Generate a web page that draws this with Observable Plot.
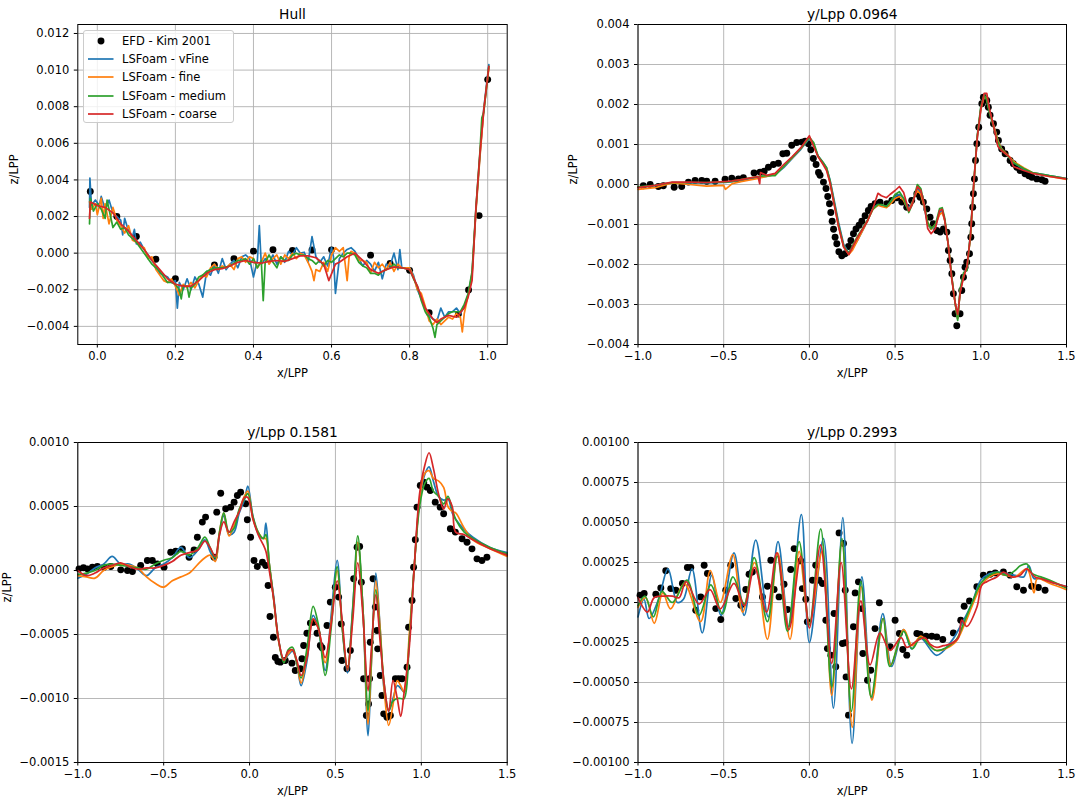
<!DOCTYPE html>
<html>
<head>
<meta charset="utf-8">
<script src="https://cdn.jsdelivr.net/npm/d3@7"></script>
<script src="https://cdn.jsdelivr.net/npm/@observablehq/plot@0.6"></script>
<style>
  html, body { margin: 0; padding: 0; background: #fff; }
  #fig { position: relative; width: 1077px; height: 803px; overflow: hidden; font-family: "DejaVu Sans", sans-serif; background: #fff; }
  #legend { position: absolute; left: 83px; top: 30px; width: 151px; height: 93px; border: 1px solid #cccccc; border-radius: 3px; background: rgba(255,255,255,0.8); box-sizing: border-box; }
  #legend .row { position: absolute; left: 0; height: 16px; width: 150px; }
  #legend .lab { position: absolute; left: 38px; top: 0; font-size: 11.5px; line-height: 16px; color: #000; white-space: nowrap; }
  #legend svg { position: absolute; left: 0; top: 0; }
</style>
</head>
<body>
<div id="fig"></div>
<script>
// ---------------- labels ----------------
const seriesNames = ["EFD - Kim 2001", "LSFoam - vFine", "LSFoam - fine", "LSFoam - medium", "LSFoam - coarse"];
const seriesColors = ["#000000", "#1f77b4", "#ff7f0e", "#2ca02c", "#d62728"];
const panelTitles = ["Hull", "y/Lpp 0.0964", "y/Lpp 0.1581", "y/Lpp 0.2993"];
const xLabel = "x/LPP";
const yLabel = "z/LPP";

// ---------------- tick values ----------------
const hullXTicks = [0.0, 0.2, 0.4, 0.6, 0.8, 1.0];
const hullYTicks = [-0.004, -0.002, 0.0, 0.002, 0.004, 0.006, 0.008, 0.010, 0.012];
const cutXTicks = [-1.0, -0.5, 0.0, 0.5, 1.0, 1.5];
const cut1YTicks = [-0.004, -0.003, -0.002, -0.001, 0.0, 0.001, 0.002, 0.003, 0.004];
const cut2YTicks = [-0.0015, -0.0010, -0.0005, 0.0, 0.0005, 0.0010];
const cut3YTicks = [-0.00100, -0.00075, -0.00050, -0.00025, 0.0, 0.00025, 0.00050, 0.00075, 0.00100];

// ---------------- Hull (x/LPP, z/LPP) ----------------
const hullEFD = [[-0.018,3.37e-3],[0.05,2.0e-3],[0.10,0.91e-3],[0.15,-0.33e-3],[0.20,-1.4e-3],[0.30,-0.65e-3],[0.35,-0.31e-3],[0.40,0.11e-3],[0.45,0.19e-3],[0.50,0.15e-3],[0.55,0.17e-3],[0.60,0.18e-3],[0.70,-0.11e-3],[0.75,-0.56e-3],[0.80,-0.94e-3],[0.85,-3.25e-3],[0.925,-3.33e-3],[0.951,-2.01e-3],[0.978,2.05e-3],[1.0,9.48e-3]];
const hullVFine = [[-0.02,2.5e-3],[-0.019,4.1e-3],[-0.015,2.6e-3],[-0.005,2.9e-3],[0.005,2.6e-3],[0.01,3.1e-3],[0.02,2.4e-3],[0.03,2.9e-3],[0.04,2.2e-3],[0.05,2.0e-3],[0.06,1.8e-3],[0.065,1.0e-3],[0.07,1.9e-3],[0.08,1.2e-3],[0.09,0.9e-3],[0.095,1.3e-3],[0.10,0.5e-3],[0.11,0.6e-3],[0.12,0.2e-3],[0.13,-0.1e-3],[0.14,-0.4e-3],[0.15,-0.7e-3],[0.16,-1.1e-3],[0.17,-1.2e-3],[0.18,-1.3e-3],[0.19,-1.6e-3],[0.20,-1.5e-3],[0.205,-3.0e-3],[0.21,-1.6e-3],[0.22,-2.0e-3],[0.23,-1.4e-3],[0.24,-2.0e-3],[0.25,-1.3e-3],[0.26,-1.7e-3],[0.27,-2.4e-3],[0.28,-1.0e-3],[0.29,-1.2e-3],[0.30,-0.6e-3],[0.31,-1.1e-3],[0.32,-0.3e-3],[0.33,-0.9e-3],[0.34,-0.6e-3],[0.35,-0.4e-3],[0.36,-0.8e-3],[0.37,-0.2e-3],[0.38,-0.1e-3],[0.39,-0.3e-3],[0.40,-1.3e-3],[0.41,-0.4e-3],[0.415,1.5e-3],[0.42,-0.6e-3],[0.43,-0.3e-3],[0.44,-0.5e-3],[0.45,-0.1e-3],[0.46,-0.6e-3],[0.47,-0.2e-3],[0.48,-0.5e-3],[0.49,0.1e-3],[0.50,-0.1e-3],[0.51,0.3e-3],[0.52,0.0],[0.53,0.05e-3],[0.54,-0.5e-3],[0.55,0.9e-3],[0.56,-0.2e-3],[0.57,-0.5e-3],[0.58,-0.2e-3],[0.59,-0.7e-3],[0.60,0.3e-3],[0.605,-0.2e-3],[0.61,-2.2e-3],[0.62,-0.3e-3],[0.63,0.0],[0.64,0.2e-3],[0.65,0.3e-3],[0.66,0.1e-3],[0.67,-0.3e-3],[0.68,-0.7e-3],[0.69,-0.4e-3],[0.70,-0.6e-3],[0.71,-1.0e-3],[0.72,-0.5e-3],[0.73,-1.4e-3],[0.74,-0.6e-3],[0.75,-0.7e-3],[0.76,0.0],[0.77,-0.9e-3],[0.775,0.2e-3],[0.78,-0.8e-3],[0.80,-0.8e-3],[0.81,-1.2e-3],[0.82,-2.0e-3],[0.83,-2.5e-3],[0.84,-3.0e-3],[0.85,-3.4e-3],[0.86,-3.6e-3],[0.87,-3.7e-3],[0.88,-3.0e-3],[0.89,-3.5e-3],[0.90,-3.2e-3],[0.91,-3.2e-3],[0.92,-3.0e-3],[0.93,-3.3e-3],[0.94,-2.9e-3],[0.95,-2.3e-3],[0.96,-1.1e-3],[0.97,2.4e-3],[0.98,5.3e-3],[0.99,7.9e-3],[1.003,10.3e-3]];
const hullFine = [[-0.02,2.8e-3],[-0.015,2.4e-3],[-0.005,2.7e-3],[0.0,2.1e-3],[0.01,3.0e-3],[0.015,1.9e-3],[0.02,2.7e-3],[0.03,1.6e-3],[0.04,2.5e-3],[0.05,1.8e-3],[0.06,1.5e-3],[0.07,1.1e-3],[0.08,1.5e-3],[0.09,0.7e-3],[0.10,0.6e-3],[0.11,0.4e-3],[0.12,0.3e-3],[0.13,-0.3e-3],[0.14,-0.2e-3],[0.15,-0.9e-3],[0.16,-1.2e-3],[0.17,-1.5e-3],[0.18,-1.6e-3],[0.19,-1.4e-3],[0.20,-1.8e-3],[0.21,-2.3e-3],[0.22,-1.7e-3],[0.23,-1.9e-3],[0.24,-1.6e-3],[0.25,-1.9e-3],[0.26,-1.5e-3],[0.27,-1.2e-3],[0.28,-1.3e-3],[0.29,-0.8e-3],[0.30,-0.6e-3],[0.31,-0.9e-3],[0.32,-0.7e-3],[0.33,-0.8e-3],[0.34,-0.6e-3],[0.35,-0.9e-3],[0.36,-0.3e-3],[0.37,-0.2e-3],[0.38,-0.5e-3],[0.39,-0.2e-3],[0.40,-0.3e-3],[0.41,-0.8e-3],[0.42,-0.5e-3],[0.43,0.0],[0.44,-0.6e-3],[0.45,-0.3e-3],[0.46,-0.1e-3],[0.47,-0.6e-3],[0.48,-0.1e-3],[0.49,-0.3e-3],[0.50,0.0],[0.51,-0.3e-3],[0.52,0.0],[0.53,-0.1e-3],[0.54,-0.5e-3],[0.55,-1.0e-3],[0.555,-1.5e-3],[0.56,-0.9e-3],[0.57,-1.0e-3],[0.58,-0.5e-3],[0.59,-1.0e-3],[0.60,-0.1e-3],[0.61,0.3e-3],[0.62,0.1e-3],[0.63,0.3e-3],[0.64,-1.5e-3],[0.645,-0.2e-3],[0.65,0.1e-3],[0.66,0.0],[0.67,-0.4e-3],[0.68,-0.4e-3],[0.69,-0.5e-3],[0.70,-1.1e-3],[0.71,-0.5e-3],[0.72,-0.8e-3],[0.73,-0.6e-3],[0.74,-0.9e-3],[0.75,-0.5e-3],[0.76,-1.0e-3],[0.77,-0.6e-3],[0.78,-0.8e-3],[0.80,-0.8e-3],[0.81,-1.3e-3],[0.82,-2.0e-3],[0.83,-2.2e-3],[0.84,-2.9e-3],[0.85,-3.7e-3],[0.86,-3.9e-3],[0.87,-3.6e-3],[0.88,-3.9e-3],[0.89,-3.7e-3],[0.90,-3.5e-3],[0.91,-3.6e-3],[0.92,-3.3e-3],[0.93,-3.5e-3],[0.935,-4.3e-3],[0.94,-3.3e-3],[0.95,-2.3e-3],[0.96,-1.2e-3],[0.97,2.3e-3],[0.98,5.2e-3],[0.99,7.8e-3],[1.003,10.1e-3]];
const hullMedium = [[-0.02,1.6e-3],[-0.018,3.0e-3],[-0.01,2.3e-3],[0.0,2.7e-3],[0.01,2.4e-3],[0.02,1.9e-3],[0.025,2.9e-3],[0.03,2.4e-3],[0.04,1.4e-3],[0.05,1.7e-3],[0.06,1.3e-3],[0.07,1.4e-3],[0.08,1.0e-3],[0.09,0.8e-3],[0.10,0.6e-3],[0.11,0.3e-3],[0.12,0.0],[0.13,-0.3e-3],[0.14,-0.6e-3],[0.15,-0.8e-3],[0.16,-1.0e-3],[0.17,-1.3e-3],[0.18,-1.6e-3],[0.19,-1.6e-3],[0.20,-1.7e-3],[0.21,-2.0e-3],[0.215,-2.5e-3],[0.22,-1.8e-3],[0.23,-1.8e-3],[0.235,-2.4e-3],[0.24,-1.9e-3],[0.25,-1.7e-3],[0.26,-1.3e-3],[0.27,-1.2e-3],[0.28,-1.0e-3],[0.29,-0.9e-3],[0.30,-0.8e-3],[0.32,-0.8e-3],[0.34,-0.7e-3],[0.36,-0.4e-3],[0.37,-0.4e-3],[0.38,-0.3e-3],[0.39,-0.6e-3],[0.40,-0.3e-3],[0.41,-0.8e-3],[0.42,-0.4e-3],[0.425,-2.6e-3],[0.43,-0.5e-3],[0.44,-0.1e-3],[0.45,-0.5e-3],[0.46,-0.8e-3],[0.47,-0.2e-3],[0.48,-0.4e-3],[0.49,-0.4e-3],[0.50,-0.1e-3],[0.51,0.0],[0.52,-0.1e-3],[0.53,-0.1e-3],[0.54,-0.3e-3],[0.55,-0.4e-3],[0.56,-0.6e-3],[0.57,-0.4e-3],[0.58,-0.7e-3],[0.59,-0.4e-3],[0.60,-0.5e-3],[0.61,-0.3e-3],[0.62,-0.1e-3],[0.63,-0.2e-3],[0.64,0.0],[0.65,0.0],[0.66,-0.1e-3],[0.67,-0.5e-3],[0.68,-0.7e-3],[0.69,-0.8e-3],[0.70,-1.1e-3],[0.71,-1.1e-3],[0.72,-1.2e-3],[0.73,-1.0e-3],[0.74,-0.9e-3],[0.75,-0.8e-3],[0.76,-0.6e-3],[0.77,-0.8e-3],[0.78,-0.8e-3],[0.80,-0.9e-3],[0.81,-1.4e-3],[0.82,-1.8e-3],[0.83,-2.6e-3],[0.84,-3.2e-3],[0.85,-3.5e-3],[0.86,-4.1e-3],[0.865,-4.6e-3],[0.87,-3.9e-3],[0.88,-3.7e-3],[0.89,-3.5e-3],[0.90,-3.3e-3],[0.91,-3.2e-3],[0.92,-3.2e-3],[0.93,-3.2e-3],[0.94,-2.8e-3],[0.95,-2.2e-3],[0.96,-1.0e-3],[0.97,2.5e-3],[0.98,5.5e-3],[0.985,7.4e-3],[0.99,7.7e-3],[1.003,10.2e-3]];
const hullCoarse = [[-0.02,1.9e-3],[-0.018,2.8e-3],[0.0,2.6e-3],[0.02,2.5e-3],[0.04,2.2e-3],[0.06,1.6e-3],[0.08,1.2e-3],[0.10,0.7e-3],[0.12,0.2e-3],[0.14,-0.4e-3],[0.16,-0.9e-3],[0.18,-1.4e-3],[0.20,-1.7e-3],[0.22,-1.8e-3],[0.24,-1.8e-3],[0.26,-1.5e-3],[0.28,-1.1e-3],[0.30,-0.9e-3],[0.32,-0.85e-3],[0.34,-0.7e-3],[0.36,-0.5e-3],[0.38,-0.4e-3],[0.40,-0.5e-3],[0.42,-0.55e-3],[0.44,-0.45e-3],[0.46,-0.4e-3],[0.48,-0.45e-3],[0.50,-0.3e-3],[0.52,-0.15e-3],[0.54,-0.15e-3],[0.56,-0.25e-3],[0.58,-0.6e-3],[0.593,-1.5e-3],[0.61,-0.6e-3],[0.62,-0.5e-3],[0.64,-0.2e-3],[0.66,0.0],[0.68,-0.4e-3],[0.70,-0.9e-3],[0.72,-1.1e-3],[0.74,-0.9e-3],[0.76,-0.75e-3],[0.78,-0.8e-3],[0.80,-0.9e-3],[0.82,-1.8e-3],[0.84,-3.0e-3],[0.86,-3.6e-3],[0.87,-3.8e-3],[0.88,-3.6e-3],[0.90,-3.4e-3],[0.92,-3.5e-3],[0.94,-3.0e-3],[0.95,-2.4e-3],[0.96,-1.5e-3],[0.97,2.5e-3],[0.98,5.4e-3],[0.99,7.8e-3],[1.003,10.2e-3]];

// ---------------- y/Lpp 0.0964 ----------------
const cut1EFD = [[-0.969,-0.03e-3],[-0.929,0.0],[-0.881,-0.05e-3],[-0.852,-0.03e-3],[-0.789,-0.07e-3],[-0.745,-0.05e-3],[-0.706,0.06e-3],[-0.667,0.10e-3],[-0.628,0.10e-3],[-0.599,0.08e-3],[-0.550,0.08e-3],[-0.492,0.13e-3],[-0.453,0.16e-3],[-0.414,0.14e-3],[-0.385,0.17e-3],[-0.323,0.29e-3],[-0.288,0.31e-3],[-0.264,0.33e-3],[-0.239,0.43e-3],[-0.210,0.50e-3],[-0.181,0.53e-3],[-0.155,0.77e-3],[-0.132,0.78e-3],[-0.103,0.98e-3],[-0.074,1.05e-3],[-0.044,1.06e-3],[-0.025,1.08e-3],[-0.006,1.02e-3],[0.008,0.87e-3],[0.023,0.65e-3],[0.039,0.50e-3],[0.053,0.30e-3],[0.062,0.23e-3],[0.082,0.06e-3],[0.097,-0.10e-3],[0.107,-0.30e-3],[0.117,-0.48e-3],[0.125,-0.70e-3],[0.133,-0.92e-3],[0.141,-1.12e-3],[0.150,-1.32e-3],[0.160,-1.48e-3],[0.172,-1.68e-3],[0.189,-1.78e-3],[0.208,-1.73e-3],[0.228,-1.55e-3],[0.242,-1.40e-3],[0.257,-1.23e-3],[0.272,-1.11e-3],[0.290,-1.02e-3],[0.306,-0.92e-3],[0.325,-0.78e-3],[0.344,-0.65e-3],[0.360,-0.55e-3],[0.383,-0.48e-3],[0.412,-0.44e-3],[0.452,-0.48e-3],[0.481,-0.40e-3],[0.510,-0.33e-3],[0.539,-0.44e-3],[0.568,-0.57e-3],[0.597,-0.40e-3],[0.627,-0.23e-3],[0.646,-0.32e-3],[0.665,-0.44e-3],[0.685,-0.61e-3],[0.704,-0.82e-3],[0.723,-0.98e-3],[0.743,-1.15e-3],[0.763,-1.19e-3],[0.782,-1.11e-3],[0.802,-1.19e-3],[0.811,-1.65e-3],[0.821,-1.90e-3],[0.831,-2.23e-3],[0.840,-2.73e-3],[0.850,-3.23e-3],[0.860,-3.53e-3],[0.879,-3.23e-3],[0.889,-2.65e-3],[0.899,-2.32e-3],[0.908,-2.07e-3],[0.918,-1.94e-3],[0.934,-1.73e-3],[0.942,-1.32e-3],[0.947,-0.98e-3],[0.953,-0.57e-3],[0.957,-0.23e-3],[0.963,0.14e-3],[0.969,0.60e-3],[0.977,1.02e-3],[0.988,1.43e-3],[1.006,2.02e-3],[1.015,2.18e-3],[1.035,2.10e-3],[1.044,1.93e-3],[1.054,1.73e-3],[1.074,1.52e-3],[1.093,1.31e-3],[1.103,1.10e-3],[1.122,0.89e-3],[1.142,0.77e-3],[1.171,0.60e-3],[1.190,0.52e-3],[1.210,0.43e-3],[1.229,0.35e-3],[1.258,0.27e-3],[1.280,0.22e-3],[1.298,0.18e-3],[1.327,0.14e-3],[1.356,0.12e-3],[1.375,0.08e-3]];
const cut1X = [-1.0,-0.9,-0.8,-0.7,-0.6,-0.5,-0.49,-0.45,-0.4,-0.3,-0.29,-0.285,-0.25,-0.2,-0.15,-0.1,-0.05,0.0,0.025,0.05,0.08,0.1,0.12,0.14,0.17,0.2,0.23,0.25,0.28,0.31,0.34,0.37,0.4,0.42,0.45,0.47,0.5,0.525,0.55,0.58,0.6,0.63,0.65,0.67,0.69,0.71,0.735,0.76,0.775,0.79,0.81,0.83,0.85,0.865,0.88,0.9,0.92,0.94,0.96,0.98,1.0,1.02,1.035,1.05,1.08,1.1,1.12,1.17,1.19,1.25,1.3,1.4,1.5];
const cut1VFine = [-0.07e-3,-0.03e-3,0.05e-3,0.04e-3,0.04e-3,0.05e-3,0.05e-3,0.07e-3,0.11e-3,0.17e-3,0.18e-3,0.19e-3,0.20e-3,0.25e-3,0.42e-3,0.65e-3,0.88e-3,1.15e-3,1.00e-3,0.72e-3,0.55e-3,0.42e-3,0.12e-3,-0.30e-3,-0.95e-3,-1.50e-3,-1.72e-3,-1.60e-3,-1.40e-3,-1.15e-3,-0.90e-3,-0.60e-3,-0.50e-3,-0.52e-3,-0.55e-3,-0.45e-3,-0.30e-3,-0.25e-3,-0.35e-3,-0.60e-3,-0.45e-3,-0.10e-3,-0.20e-3,-0.55e-3,-1.00e-3,-1.12e-3,-1.05e-3,-0.70e-3,-0.65e-3,-0.90e-3,-1.50e-3,-2.30e-3,-2.95e-3,-3.35e-3,-2.65e-3,-2.25e-3,-2.05e-3,-1.25e-3,0.05e-3,1.20e-3,1.90e-3,2.20e-3,2.15e-3,1.85e-3,1.40e-3,1.10e-3,0.90e-3,0.65e-3,0.55e-3,0.38e-3,0.30e-3,0.22e-3,0.15e-3];
const cut1Fine = [-0.12e-3,-0.08e-3,0.04e-3,0.00,-0.04e-3,-0.02e-3,-0.12e-3,0.02e-3,0.07e-3,0.15e-3,0.16e-3,0.17e-3,0.20e-3,0.25e-3,0.45e-3,0.67e-3,0.90e-3,1.18e-3,0.98e-3,0.70e-3,0.52e-3,0.40e-3,0.05e-3,-0.38e-3,-1.05e-3,-1.55e-3,-1.75e-3,-1.65e-3,-1.40e-3,-1.15e-3,-0.90e-3,-0.62e-3,-0.52e-3,-0.55e-3,-0.58e-3,-0.50e-3,-0.35e-3,-0.30e-3,-0.40e-3,-0.65e-3,-0.45e-3,-0.15e-3,-0.25e-3,-0.55e-3,-0.95e-3,-1.12e-3,-1.00e-3,-0.75e-3,-0.70e-3,-0.90e-3,-1.50e-3,-2.30e-3,-2.95e-3,-3.35e-3,-2.65e-3,-2.30e-3,-2.05e-3,-1.30e-3,0.05e-3,1.20e-3,1.88e-3,2.20e-3,2.15e-3,1.85e-3,1.40e-3,1.10e-3,0.90e-3,0.68e-3,0.58e-3,0.42e-3,0.30e-3,0.20e-3,0.13e-3];
const cut1Medium = [-0.06e-3,-0.02e-3,0.05e-3,0.05e-3,0.05e-3,0.06e-3,0.06e-3,0.08e-3,0.12e-3,0.20e-3,0.20e-3,0.21e-3,0.22e-3,0.22e-3,0.45e-3,0.68e-3,0.90e-3,1.18e-3,1.05e-3,0.72e-3,0.55e-3,0.42e-3,0.10e-3,-0.35e-3,-1.00e-3,-1.55e-3,-1.72e-3,-1.55e-3,-1.30e-3,-1.10e-3,-0.88e-3,-0.62e-3,-0.50e-3,-0.50e-3,-0.55e-3,-0.45e-3,-0.25e-3,-0.18e-3,-0.35e-3,-0.70e-3,-0.50e-3,0.00,-0.10e-3,-0.50e-3,-0.95e-3,-1.10e-3,-1.00e-3,-0.60e-3,-0.58e-3,-0.85e-3,-1.50e-3,-2.30e-3,-2.95e-3,-3.40e-3,-2.60e-3,-2.20e-3,-2.15e-3,-1.20e-3,0.10e-3,1.25e-3,1.95e-3,2.25e-3,2.10e-3,1.80e-3,1.35e-3,1.05e-3,0.88e-3,0.65e-3,0.55e-3,0.40e-3,0.30e-3,0.22e-3,0.15e-3];
const cut1Coarse = [-0.08e-3,-0.02e-3,0.06e-3,0.06e-3,0.05e-3,0.07e-3,0.07e-3,0.09e-3,0.12e-3,0.20e-3,0.02e-3,0.30e-3,0.23e-3,0.28e-3,0.50e-3,0.70e-3,0.92e-3,1.22e-3,0.95e-3,0.70e-3,0.50e-3,0.35e-3,0.05e-3,-0.40e-3,-1.05e-3,-1.57e-3,-1.75e-3,-1.58e-3,-1.33e-3,-1.12e-3,-0.90e-3,-0.60e-3,-0.22e-3,-0.28e-3,-0.33e-3,-0.25e-3,-0.15e-3,-0.05e-3,-0.20e-3,-0.66e-3,-0.50e-3,-0.05e-3,-0.15e-3,-0.50e-3,-1.10e-3,-1.23e-3,-1.10e-3,-0.65e-3,-0.62e-3,-0.90e-3,-1.50e-3,-2.35e-3,-2.95e-3,-3.25e-3,-2.70e-3,-2.30e-3,-2.05e-3,-1.25e-3,0.10e-3,1.20e-3,1.88e-3,2.28e-3,2.28e-3,1.90e-3,1.35e-3,0.95e-3,0.85e-3,0.68e-3,0.45e-3,0.35e-3,0.28e-3,0.20e-3,0.14e-3];

// ---------------- y/Lpp 0.1581 ----------------
const cut2EFD = [[-0.993,0.013e-3],[-0.967,0.021e-3],[-0.944,0.013e-3],[-0.915,0.026e-3],[-0.886,0.031e-3],[-0.847,0.026e-3],[-0.808,0.031e-3],[-0.750,0.005e-3],[-0.711,0.0],[-0.682,-0.008e-3],[-0.634,0.039e-3],[-0.595,0.078e-3],[-0.566,0.078e-3],[-0.537,0.052e-3],[-0.498,0.026e-3],[-0.459,0.143e-3],[-0.430,0.151e-3],[-0.391,0.169e-3],[-0.352,0.104e-3],[-0.323,0.161e-3],[-0.304,0.26e-3],[-0.275,0.378e-3],[-0.256,0.417e-3],[-0.217,0.307e-3],[-0.207,0.104e-3],[-0.191,0.456e-3],[-0.168,0.604e-3],[-0.139,0.482e-3],[-0.110,0.495e-3],[-0.090,0.534e-3],[-0.071,0.586e-3],[-0.052,0.612e-3],[-0.023,0.521e-3],[-0.013,0.396e-3],[0.006,0.26e-3],[0.026,0.078e-3],[0.045,0.031e-3],[0.075,0.065e-3],[0.094,0.039e-3],[0.108,-0.117e-3],[0.119,-0.359e-3],[0.139,-0.521e-3],[0.150,-0.68e-3],[0.165,-0.71e-3],[0.179,-0.716e-3],[0.208,-0.703e-3],[0.247,-0.724e-3],[0.266,-0.781e-3],[0.296,-0.768e-3],[0.305,-0.690e-3],[0.315,-0.586e-3],[0.334,-0.490e-3],[0.354,-0.411e-3],[0.373,-0.404e-3],[0.393,-0.49e-3],[0.412,-0.586e-3],[0.422,-0.604e-3],[0.451,-0.43e-3],[0.470,-0.247e-3],[0.499,-0.130e-3],[0.519,-0.208e-3],[0.534,-0.417e-3],[0.538,-0.703e-3],[0.567,-0.768e-3],[0.587,-0.625e-3],[0.606,-0.065e-3],[0.626,0.182e-3],[0.641,0.188e-3],[0.651,-0.091e-3],[0.664,-0.846e-3],[0.680,-1.133e-3],[0.693,-1.042e-3],[0.699,-0.846e-3],[0.703,-0.56e-3],[0.719,-0.065e-3],[0.732,-0.286e-3],[0.742,-0.469e-3],[0.746,-0.612e-3],[0.761,-0.82e-3],[0.771,-0.977e-3],[0.781,-1.12e-3],[0.800,-1.146e-3],[0.820,-1.133e-3],[0.849,-0.846e-3],[0.868,-0.846e-3],[0.888,-0.846e-3],[0.917,-0.755e-3],[0.926,-0.443e-3],[0.946,-0.234e-3],[0.955,0.026e-3],[0.965,0.24e-3],[0.975,0.495e-3],[0.994,0.664e-3],[1.014,0.69e-3],[1.033,0.651e-3],[1.052,0.625e-3],[1.081,0.534e-3],[1.110,0.495e-3],[1.130,0.443e-3],[1.169,0.326e-3],[1.198,0.30e-3],[1.237,0.248e-3],[1.266,0.221e-3],[1.295,0.169e-3],[1.324,0.091e-3],[1.353,0.078e-3],[1.382,0.104e-3]];
const cut2X = [-1.0,-0.95,-0.9,-0.85,-0.8,-0.75,-0.7,-0.65,-0.6,-0.55,-0.5,-0.45,-0.4,-0.35,-0.3,-0.26,-0.23,-0.2,-0.175,-0.15,-0.12,-0.09,-0.06,-0.03,-0.01,0.02,0.05,0.08,0.095,0.115,0.14,0.17,0.2,0.225,0.25,0.275,0.3,0.335,0.37,0.4,0.44,0.475,0.51,0.54,0.57,0.6,0.63,0.66,0.69,0.71,0.735,0.76,0.785,0.81,0.835,0.86,0.88,0.9,0.93,0.96,0.99,1.02,1.045,1.07,1.1,1.13,1.155,1.18,1.2,1.25,1.3,1.4,1.5];
const cut2VFine = [-0.06e-3,-0.03e-3,0.02e-3,0.05e-3,0.11e-3,0.05e-3,0.05e-3,0.01e-3,-0.04e-3,0.02e-3,0.05e-3,0.10e-3,0.18e-3,0.10e-3,0.16e-3,0.24e-3,0.15e-3,0.08e-3,0.28e-3,0.43e-3,0.28e-3,0.30e-3,0.45e-3,0.55e-3,0.66e-3,0.42e-3,0.29e-3,0.25e-3,0.37e-3,0.05e-3,-0.20e-3,-0.55e-3,-0.70e-3,-0.66e-3,-0.63e-3,-0.72e-3,-0.90e-3,-0.70e-3,-0.35e-3,-0.45e-3,-0.78e-3,-0.35e-3,0.08e-3,-0.45e-3,-0.80e-3,-0.30e-3,0.22e-3,-0.30e-3,-1.29e-3,-0.70e-3,-0.02e-3,-0.45e-3,-0.95e-3,-1.10e-3,-1.00e-3,-0.90e-3,-0.92e-3,-0.95e-3,-0.55e-3,0.05e-3,0.55e-3,0.75e-3,0.81e-3,0.70e-3,0.58e-3,0.55e-3,0.56e-3,0.45e-3,0.40e-3,0.32e-3,0.26e-3,0.18e-3,0.14e-3];
const cut2Fine = [-0.04e-3,-0.05e-3,-0.06e-3,0.00,0.03e-3,0.05e-3,0.04e-3,0.02e-3,-0.05e-3,-0.10e-3,-0.13e-3,-0.08e-3,-0.05e-3,-0.02e-3,0.05e-3,0.10e-3,0.12e-3,0.07e-3,0.30e-3,0.45e-3,0.27e-3,0.35e-3,0.47e-3,0.58e-3,0.62e-3,0.40e-3,0.30e-3,0.25e-3,0.25e-3,0.05e-3,-0.22e-3,-0.56e-3,-0.70e-3,-0.65e-3,-0.62e-3,-0.72e-3,-0.88e-3,-0.65e-3,-0.38e-3,-0.45e-3,-0.72e-3,-0.40e-3,0.00,-0.45e-3,-0.76e-3,-0.35e-3,0.22e-3,-0.30e-3,-1.20e-3,-0.70e-3,-0.08e-3,-0.45e-3,-0.95e-3,-1.21e-3,-1.05e-3,-0.86e-3,-0.90e-3,-0.95e-3,-0.50e-3,0.05e-3,0.55e-3,0.76e-3,0.78e-3,0.72e-3,0.70e-3,0.65e-3,0.50e-3,0.46e-3,0.45e-3,0.33e-3,0.24e-3,0.17e-3,0.11e-3];
const cut2Medium = [-0.03e-3,-0.02e-3,0.00,0.04e-3,0.05e-3,0.04e-3,0.03e-3,0.02e-3,0.01e-3,0.05e-3,0.08e-3,0.10e-3,0.15e-3,0.12e-3,0.18e-3,0.26e-3,0.18e-3,0.10e-3,0.30e-3,0.45e-3,0.30e-3,0.33e-3,0.48e-3,0.56e-3,0.60e-3,0.42e-3,0.30e-3,0.25e-3,0.28e-3,0.05e-3,-0.22e-3,-0.55e-3,-0.72e-3,-0.62e-3,-0.60e-3,-0.72e-3,-0.84e-3,-0.60e-3,-0.28e-3,-0.42e-3,-0.82e-3,-0.45e-3,0.03e-3,-0.45e-3,-0.78e-3,-0.32e-3,0.27e-3,-0.30e-3,-1.10e-3,-0.65e-3,-0.15e-3,-0.50e-3,-0.90e-3,-1.09e-3,-1.02e-3,-1.00e-3,-1.00e-3,-1.00e-3,-0.55e-3,0.05e-3,0.50e-3,0.68e-3,0.72e-3,0.62e-3,0.58e-3,0.52e-3,0.58e-3,0.48e-3,0.40e-3,0.30e-3,0.25e-3,0.18e-3,0.13e-3];
const cut2Coarse = [0.00,-0.04e-3,-0.02e-3,0.02e-3,0.04e-3,0.06e-3,0.03e-3,0.01e-3,0.02e-3,0.02e-3,0.04e-3,0.07e-3,0.12e-3,0.14e-3,0.16e-3,0.23e-3,0.18e-3,0.11e-3,0.28e-3,0.38e-3,0.30e-3,0.38e-3,0.46e-3,0.57e-3,0.57e-3,0.40e-3,0.28e-3,0.20e-3,0.15e-3,0.00,-0.22e-3,-0.55e-3,-0.70e-3,-0.63e-3,-0.62e-3,-0.70e-3,-0.82e-3,-0.68e-3,-0.38e-3,-0.45e-3,-0.68e-3,-0.42e-3,-0.08e-3,-0.40e-3,-0.78e-3,-0.40e-3,0.06e-3,-0.35e-3,-0.94e-3,-0.60e-3,-0.19e-3,-0.55e-3,-0.90e-3,-1.10e-3,-0.86e-3,-1.00e-3,-1.14e-3,-0.95e-3,-0.60e-3,0.05e-3,0.60e-3,0.82e-3,0.92e-3,0.80e-3,0.60e-3,0.48e-3,0.56e-3,0.50e-3,0.30e-3,0.28e-3,0.24e-3,0.17e-3,0.12e-3];

// ---------------- y/Lpp 0.2993 ----------------
const cut3EFD = [[-0.988,0.046e-3],[-0.964,0.056e-3],[-0.896,0.052e-3],[-0.867,0.091e-3],[-0.838,0.198e-3],[-0.809,0.087e-3],[-0.779,0.077e-3],[-0.741,0.119e-3],[-0.712,0.219e-3],[-0.692,0.219e-3],[-0.663,-0.048e-3],[-0.634,0.035e-3],[-0.614,0.233e-3],[-0.595,0.181e-3],[-0.546,-0.038e-3],[-0.517,-0.106e-3],[-0.488,0.077e-3],[-0.459,0.233e-3],[-0.429,0.025e-3],[-0.400,-0.017e-3],[-0.371,0.081e-3],[-0.352,0.177e-3],[-0.333,0.191e-3],[-0.274,0.035e-3],[-0.245,0.102e-3],[-0.225,0.264e-3],[-0.206,0.081e-3],[-0.177,0.035e-3],[-0.148,0.114e-3],[-0.128,-0.044e-3],[-0.109,0.206e-3],[-0.089,0.337e-3],[-0.050,0.260e-3],[-0.041,0.087e-3],[-0.021,0.021e-3],[-0.012,-0.121e-3],[0.018,0.139e-3],[0.037,0.233e-3],[0.057,0.139e-3],[0.076,0.119e-3],[0.096,-0.111e-3],[0.105,-0.288e-3],[0.125,-0.329e-3],[0.144,-0.069e-3],[0.154,-0.402e-3],[0.173,0.435e-3],[0.193,-0.256e-3],[0.199,0.369e-3],[0.209,0.077e-3],[0.209,-0.252e-3],[0.214,-0.465e-3],[0.228,-0.704e-3],[0.257,-0.152e-3],[0.267,0.060e-3],[0.286,0.129e-3],[0.306,-0.038e-3],[0.312,-0.319e-3],[0.339,-0.486e-3],[0.358,-0.423e-3],[0.383,-0.163e-3],[0.408,-0.002e-3],[0.471,-0.277e-3],[0.500,-0.111e-3],[0.525,-0.194e-3],[0.545,-0.294e-3],[0.568,-0.329e-3],[0.627,-0.194e-3],[0.646,-0.198e-3],[0.681,-0.211e-3],[0.714,-0.211e-3],[0.743,-0.215e-3],[0.778,-0.231e-3],[0.840,-0.190e-3],[0.883,-0.111e-3],[0.903,-0.023e-3],[0.934,0.010e-3],[0.977,0.098e-3],[1.015,0.171e-3],[1.054,0.177e-3],[1.084,0.185e-3],[1.132,0.191e-3],[1.171,0.171e-3],[1.210,0.098e-3],[1.249,0.077e-3],[1.297,0.102e-3],[1.336,0.094e-3],[1.375,0.077e-3]];
const cut3VFine = [[-1.0,-0.09e-3],[-0.965,0.02e-3],[-0.935,-0.10e-3],[-0.88,0.02e-3],[-0.825,0.21e-3],[-0.77,0.0],[-0.735,0.02e-3],[-0.685,0.21e-3],[-0.625,-0.19e-3],[-0.57,0.17e-3],[-0.515,-0.08e-3],[-0.44,0.31e-3],[-0.38,-0.08e-3],[-0.313,0.39e-3],[-0.24,-0.09e-3],[-0.183,0.38e-3],[-0.12,-0.15e-3],[-0.047,0.55e-3],[0.0,-0.25e-3],[0.082,0.40e-3],[0.14,-0.66e-3],[0.195,0.53e-3],[0.249,-0.88e-3],[0.306,0.16e-3],[0.364,-0.60e-3],[0.428,-0.07e-3],[0.48,-0.40e-3],[0.549,-0.17e-3],[0.597,-0.29e-3],[0.646,-0.22e-3],[0.743,-0.33e-3],[0.83,-0.24e-3],[0.88,-0.15e-3],[0.95,0.0],[1.0,0.14e-3],[1.05,0.18e-3],[1.1,0.19e-3],[1.15,0.18e-3],[1.2,0.17e-3],[1.25,0.16e-3],[1.28,0.23e-3],[1.31,0.15e-3],[1.35,0.15e-3],[1.4,0.13e-3],[1.5,0.10e-3]];
const cut3Fine = [[-1.0,-0.03e-3],[-0.955,0.03e-3],[-0.905,-0.13e-3],[-0.855,0.06e-3],[-0.81,-0.04e-3],[-0.73,0.12e-3],[-0.635,-0.12e-3],[-0.578,0.20e-3],[-0.52,0.0],[-0.447,0.30e-3],[-0.39,-0.06e-3],[-0.32,0.25e-3],[-0.245,-0.23e-3],[-0.185,0.31e-3],[-0.113,-0.23e-3],[-0.06,0.32e-3],[0.0,-0.13e-3],[0.075,0.32e-3],[0.13,-0.58e-3],[0.19,0.38e-3],[0.25,-0.78e-3],[0.302,0.10e-3],[0.365,-0.61e-3],[0.43,-0.10e-3],[0.475,-0.39e-3],[0.55,-0.17e-3],[0.6,-0.27e-3],[0.65,-0.21e-3],[0.74,-0.30e-3],[0.85,-0.25e-3],[0.9,-0.15e-3],[0.95,-0.02e-3],[1.0,0.10e-3],[1.05,0.16e-3],[1.1,0.18e-3],[1.15,0.17e-3],[1.2,0.16e-3],[1.27,0.21e-3],[1.31,0.06e-3],[1.33,0.15e-3],[1.4,0.12e-3],[1.5,0.08e-3]];
const cut3Medium = [[-1.0,-0.02e-3],[-0.96,0.04e-3],[-0.91,-0.09e-3],[-0.86,0.07e-3],[-0.8,0.0],[-0.715,0.14e-3],[-0.644,-0.08e-3],[-0.575,0.11e-3],[-0.508,-0.07e-3],[-0.446,0.16e-3],[-0.38,-0.01e-3],[-0.322,0.28e-3],[-0.245,-0.12e-3],[-0.187,0.29e-3],[-0.128,-0.18e-3],[-0.06,0.38e-3],[0.0,-0.14e-3],[0.066,0.46e-3],[0.13,-0.53e-3],[0.19,0.40e-3],[0.245,-0.68e-3],[0.3,0.13e-3],[0.36,-0.59e-3],[0.43,-0.10e-3],[0.47,-0.40e-3],[0.55,-0.18e-3],[0.6,-0.29e-3],[0.65,-0.22e-3],[0.74,-0.30e-3],[0.85,-0.24e-3],[0.9,-0.13e-3],[0.95,0.0],[1.0,0.12e-3],[1.05,0.17e-3],[1.1,0.19e-3],[1.15,0.17e-3],[1.2,0.20e-3],[1.23,0.23e-3],[1.27,0.24e-3],[1.3,0.18e-3],[1.35,0.16e-3],[1.4,0.14e-3],[1.5,0.09e-3]];
const cut3Coarse = [[-1.0,0.03e-3],[-0.945,-0.06e-3],[-0.906,0.03e-3],[-0.85,0.04e-3],[-0.8,0.04e-3],[-0.76,0.03e-3],[-0.72,0.13e-3],[-0.644,-0.01e-3],[-0.58,0.08e-3],[-0.52,-0.04e-3],[-0.44,0.12e-3],[-0.38,-0.02e-3],[-0.32,0.22e-3],[-0.25,-0.06e-3],[-0.19,0.31e-3],[-0.12,-0.17e-3],[-0.05,0.29e-3],[0.0,-0.16e-3],[0.065,0.36e-3],[0.13,-0.38e-3],[0.185,0.25e-3],[0.245,-0.54e-3],[0.3,0.01e-3],[0.354,-0.39e-3],[0.412,-0.19e-3],[0.47,-0.30e-3],[0.535,-0.22e-3],[0.568,-0.28e-3],[0.627,-0.24e-3],[0.675,-0.22e-3],[0.704,-0.26e-3],[0.743,-0.28e-3],[0.782,-0.27e-3],[0.82,-0.26e-3],[0.869,-0.22e-3],[0.889,-0.11e-3],[0.918,-0.15e-3],[0.977,-0.03e-3],[1.006,0.11e-3],[1.035,0.13e-3],[1.093,0.16e-3],[1.132,0.19e-3],[1.18,0.16e-3],[1.229,0.17e-3],[1.268,0.21e-3],[1.316,0.16e-3],[1.346,0.15e-3],[1.433,0.12e-3],[1.5,0.10e-3]];

// ---------------- drawing ----------------
const fig = document.getElementById("fig");
const zipXY = (xs, ys) => xs.map((x, i) => [x, ys[i]]);

function drawPanel(cfg) {
  const lineMarks = cfg.lines.map((data, i) =>
    Plot.line(data, {x: d => d[0], y: d => d[1], stroke: seriesColors[i + 1], strokeWidth: 1.7, curve: cfg.curve}));
  const marks = [
    Plot.gridX(cfg.xTicks, {stroke: "#b0b0b0", strokeOpacity: 1, strokeWidth: 0.9}),
    Plot.gridY(cfg.yTicks, {stroke: "#b0b0b0", strokeOpacity: 1, strokeWidth: 0.9}),
    Plot.dot(cfg.efd, {x: d => d[0], y: d => d[1], r: 3.45, fill: seriesColors[0]}),
    ...lineMarks,
    Plot.frame({stroke: "black", strokeWidth: 1}),
    Plot.axisX(cfg.xTicks, {anchor: "bottom", tickFormat: d3.format(".1f"), tickSize: 3.5, tickPadding: 4, label: null}),
    Plot.axisY(cfg.yTicks, {anchor: "left", tickFormat: d3.format(cfg.yFmt), tickSize: 3.5, tickPadding: 5, label: null}),
    Plot.text([cfg.title], {frameAnchor: "top", dy: -15, text: d => d, fontSize: 13.8, fill: "black"}),
    Plot.text([xLabel], {frameAnchor: "bottom", dy: 32, text: d => d, fontSize: 11.5, fill: "black"})
  ];
  if (cfg.yLabelDx !== null) {
    marks.push(Plot.text([yLabel], {frameAnchor: "left", dx: cfg.yLabelDx, rotate: -90, text: d => d, fontSize: 11.5, fill: "black"}));
  }
  const svg = Plot.plot({
    width: cfg.width, height: cfg.height,
    marginLeft: cfg.mL, marginRight: cfg.mR, marginTop: cfg.mT, marginBottom: cfg.mB,
    x: {domain: cfg.xDomain},
    y: {domain: cfg.yDomain},
    style: {fontFamily: "DejaVu Sans", fontSize: "11.5px", color: "black", background: "transparent", overflow: "visible"},
    marks
  });
  svg.style.position = "absolute";
  svg.style.left = cfg.left + "px";
  svg.style.top = cfg.top + "px";
  svg.style.maxWidth = "none";
  fig.appendChild(svg);
}

drawPanel({
  left: 0, top: 0, width: 540, height: 400, mL: 77.3, mR: 33.3, mT: 24, mB: 56,
  xDomain: [-0.05, 1.05], yDomain: [-0.00499, 0.01249],
  xTicks: hullXTicks, yTicks: hullYTicks, yFmt: ".3f", title: panelTitles[0], yLabelDx: -63.3,
  efd: hullEFD, lines: [hullVFine, hullFine, hullMedium, hullCoarse], curve: "linear"
});
drawPanel({
  left: 540, top: 0, width: 537, height: 400, mL: 97.5, mR: 11, mT: 24, mB: 56,
  xDomain: [-1.0, 1.5], yDomain: [-0.004, 0.004],
  xTicks: cutXTicks, yTicks: cut1YTicks, yFmt: ".3f", title: panelTitles[1], yLabelDx: -64.3,
  efd: cut1EFD, lines: [zipXY(cut1X, cut1VFine), zipXY(cut1X, cut1Fine), zipXY(cut1X, cut1Medium), zipXY(cut1X, cut1Coarse)], curve: "linear"
});
drawPanel({
  left: 0, top: 400, width: 540, height: 403, mL: 77.3, mR: 33.3, mT: 42, mB: 41,
  xDomain: [-1.0, 1.5], yDomain: [-0.0015, 0.0010],
  xTicks: cutXTicks, yTicks: cut2YTicks, yFmt: ".4f", title: panelTitles[2], yLabelDx: -70.3,
  efd: cut2EFD, lines: [zipXY(cut2X, cut2VFine), zipXY(cut2X, cut2Fine), zipXY(cut2X, cut2Medium), zipXY(cut2X, cut2Coarse)], curve: "catmull-rom"
});
drawPanel({
  left: 540, top: 400, width: 537, height: 403, mL: 97.5, mR: 11, mT: 42, mB: 41,
  xDomain: [-1.0, 1.5], yDomain: [-0.001, 0.001],
  xTicks: cutXTicks, yTicks: cut3YTicks, yFmt: ".5f", title: panelTitles[3], yLabelDx: null,
  efd: cut3EFD, lines: [cut3VFine, cut3Fine, cut3Medium, cut3Coarse], curve: "catmull-rom"
});

// ---------------- legend (inside Hull panel) ----------------
const legend = document.createElement("div");
legend.id = "legend";
const rowTops = [2, 20.3, 38.3, 56.7, 74.7];
seriesNames.forEach((name, i) => {
  const row = document.createElement("div");
  row.className = "row";
  row.style.top = rowTops[i] + "px";
  const sw = i === 0
    ? `<svg width="36" height="16"><circle cx="17" cy="8" r="3.45" fill="${seriesColors[i]}"/></svg>`
    : `<svg width="36" height="16"><line x1="4" x2="29.5" y1="8" y2="8" stroke="${seriesColors[i]}" stroke-width="1.7"/></svg>`;
  row.innerHTML = sw + `<span class="lab">${name}</span>`;
  legend.appendChild(row);
});
fig.appendChild(legend);
</script>
</body>
</html>
